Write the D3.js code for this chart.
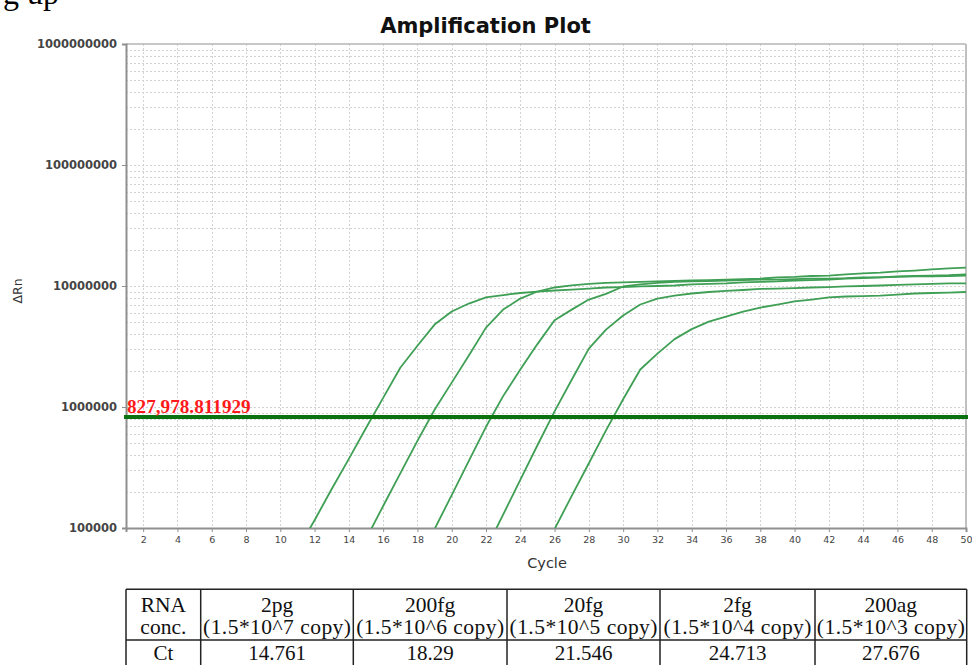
<!DOCTYPE html>
<html><head><meta charset="utf-8">
<script src="https://cdn.jsdelivr.net/npm/d3@7"></script>
<style>
html,body{margin:0;padding:0;background:#fff;}
svg{display:block;}
</style></head>
<body>
<svg id="chart" width="972" height="665"></svg>
<script>
// ---------- data ----------
const cycles = [11,12,13,14,15,16,17,18,19,20,21,22,23,24,25,26,27,28,29,30,
                31,32,33,34,35,36,37,38,39,40,41,42,43,44,45,46,47,48,49,50];
const N = null;
const s2pg = [6.6e4,1.16e5,2.1e5,3.73e5,6.7e5, 1.19e6,2.11e6,3.21e6,4.8e6,6.15e6,
              7.16e6,8.04e6,8.42e6,8.75e6,9.0e6, 9.18e6,9.35e6,9.53e6,9.72e6,9.8e6,
              9.91e6,1.0e7,1.01e7,1.03e7,1.04e7, 1.05e7,1.07e7,1.08e7,1.09e7,1.11e7,
              1.12e7,1.13e7,1.15e7,1.16e7,1.18e7, 1.2e7,1.21e7,1.22e7,1.23e7,1.25e7];
const s200fg = [N,N,N,N,8.1e4, 1.52e5,2.83e5,5.25e5,9.5e5,1.59e6,
              2.66e6,4.53e6,6.38e6,7.87e6,9.0e6, 9.72e6,1.01e7,1.04e7,1.06e7,1.07e7,
              1.08e7,1.09e7,1.1e7,1.11e7,1.12e7, 1.13e7,1.14e7,1.15e7,1.18e7,1.19e7,
              1.21e7,1.22e7,1.25e7,1.27e7,1.29e7, 1.32e7,1.34e7,1.37e7,1.40e7,1.42e7];
const s20fg = [N,N,N,N,N, N,N,5.2e4,9.8e4,1.87e5,
              3.59e5,6.86e5,1.23e6,2.04e6,3.31e6, 5.22e6,6.38e6,7.73e6,8.6e6,9.91e6,
              1.03e7,1.06e7,1.08e7,1.09e7,1.1e7, 1.11e7,1.12e7,1.13e7,1.13e7,1.14e7,
              1.15e7,1.15e7,1.16e7,1.18e7,1.18e7, 1.19e7,1.2e7,1.2e7,1.21e7,1.22e7];
const s2fg = [N,N,N,N,N, N,N,N,N,N,
              3.4e4,6.7e4,1.29e5,2.5e5,4.83e5, 9.2e5,1.68e6,3.04e6,4.36e6,5.7e6,
              7.03e6,7.87e6,8.34e6,8.67e6,8.92e6, 9.1e6,9.27e6,9.45e6,9.53e6,9.62e6,
              9.72e6,9.8e6,9.91e6,1.0e7,1.01e7, 1.02e7,1.03e7,1.04e7,1.05e7,1.05e7];
const s200ag = [N,N,N,N,N, N,N,N,N,N,
              N,N,N,N,5.3e4, 9.8e4,1.84e5,3.43e5,6.41e5,1.16e6,
              2.04e6,2.76e6,3.64e6,4.4e6,5.08e6, 5.58e6,6.15e6,6.64e6,7.03e6,7.45e6,
              7.73e6,8.04e6,8.19e6,8.26e6,8.34e6, 8.5e6,8.67e6,8.75e6,8.83e6,8.92e6];
const seriesList = [s2pg, s200fg, s20fg, s2fg, s200ag];

const threshold = 827978.811929;
const thresholdLabel = "827,978.811929";
const xTicks = [2,4,6,8,10,12,14,16,18,20,22,24,26,28,30,32,34,36,38,40,42,44,46,48,50];
const yTicks = [1e5,1e6,1e7,1e8,1e9];
const yTickLabels = ["100000","1000000","10000000","100000000","1000000000"];
const yMinor = [2e5,3e5,4e5,5e5,6e5,7e5,8e5,9e5, 2e6,3e6,4e6,5e6,6e6,7e6,8e6,9e6,
                2e7,3e7,4e7,5e7,6e7,7e7,8e7,9e7, 2e8,3e8,4e8,5e8,6e8,7e8,8e8,9e8];

const tableHeadConc = ["RNA","2pg","200fg","20fg","2fg","200ag"];
const tableHeadCopy = ["conc.","(1.5*10^7 copy)","(1.5*10^6 copy)","(1.5*10^5 copy)","(1.5*10^4 copy)","(1.5*10^3 copy)"];
const tableCt = ["Ct","14.761","18.29","21.546","24.713","27.676"];

// ---------- layout ----------
const svg = d3.select("#chart");
const L = 126, R = 966, T = 44, B = 528;
const x = d3.scaleLinear().domain([1,50]).range([L,R]);
const y = d3.scaleLog().domain([1e5,1e9]).range([B,T]);

// cropped text from the page above
svg.append("text").attr("x",3).attr("y",4)
  .attr("font-family","Liberation Serif").attr("font-size",32).attr("fill","#000").text("g up");

// title
svg.append("text").attr("x",485.5).attr("y",33).attr("text-anchor","middle")
  .attr("font-family","DejaVu Sans").attr("font-weight","bold").attr("font-size",21)
  .attr("fill","#111").text("Amplification Plot");

// grid
const grid = svg.append("g").attr("stroke","#d2d2d2").attr("stroke-width",1).attr("stroke-dasharray","2,2");
grid.selectAll("line.h").data(yMinor.concat([1e6,1e7,1e8])).join("line")
  .attr("x1",L).attr("x2",R).attr("y1",d=>Math.round(y(d))+0.5).attr("y2",d=>Math.round(y(d))+0.5);
grid.selectAll("line.v").data(xTicks.filter(d=>d<50)).join("line")
  .attr("y1",T).attr("y2",B).attr("x1",d=>Math.round(x(d))+0.5).attr("x2",d=>Math.round(x(d))+0.5);

// frame
svg.append("line").attr("x1",L).attr("x2",R).attr("y1",T).attr("y2",T).attr("stroke","#b5b5b5").attr("stroke-width",1.5);
svg.append("line").attr("x1",R).attr("x2",R).attr("y1",T).attr("y2",B).attr("stroke","#c0c0c0").attr("stroke-width",2);

// axes
const yAxis = d3.axisLeft(y).tickValues(yTicks).tickFormat((d,i)=>yTickLabels[i]).tickSize(4).tickPadding(5);
const gy = svg.append("g").attr("transform",`translate(${L},0)`).call(yAxis);
gy.select(".domain").attr("stroke","#8f8f8f").attr("stroke-width",2);
gy.selectAll(".tick line").attr("stroke","#8f8f8f");
gy.selectAll(".tick text").attr("font-family","DejaVu Sans").attr("font-weight","bold")
  .attr("font-size",11.5).attr("fill","#444");

const xAxis = d3.axisBottom(x).tickValues(xTicks).tickSize(4).tickPadding(4);
const gx = svg.append("g").attr("transform",`translate(0,${B})`).call(xAxis);
gx.select(".domain").attr("stroke","#8f8f8f").attr("stroke-width",2);
gx.selectAll(".tick line").attr("stroke","#8f8f8f");
gx.selectAll(".tick text").attr("font-family","DejaVu Sans").attr("font-size",9.5)
  .attr("fill","#444");

// axis titles
svg.append("text").attr("x",547).attr("y",568).attr("text-anchor","middle")
  .attr("font-family","DejaVu Sans").attr("font-size",14.5).attr("fill","#333").text("Cycle");
svg.append("text").attr("transform","translate(22,291) rotate(-90)").attr("text-anchor","middle")
  .attr("font-family","DejaVu Sans").attr("font-size",12.5).attr("fill","#333").text("ΔRn");

// curves
svg.append("clipPath").attr("id","clip").append("rect")
  .attr("x",L).attr("y",T).attr("width",R-L).attr("height",B-T);
const line = d3.line().defined(d=>d[1]!==null).x(d=>x(d[0])).y(d=>y(d[1]));
svg.append("g").attr("clip-path","url(#clip)")
  .selectAll("path").data(seriesList).join("path")
  .attr("d",s=>line(cycles.map((c,i)=>[c,s[i]])))
  .attr("fill","none").attr("stroke","#3f9f55").attr("stroke-width",1.8).attr("stroke-linejoin","round");

// threshold
svg.append("line").attr("x1",L-2).attr("x2",R+2).attr("y1",y(threshold)).attr("y2",y(threshold))
  .attr("stroke","#0a720f").attr("stroke-width",4);
svg.append("text").attr("x",L+1).attr("y",y(threshold)-4)
  .attr("font-family","Liberation Serif").attr("font-weight","bold").attr("font-size",19.2)
  .attr("fill","#ff1a1a").text(thresholdLabel);

// table
const colEdges = [126,200.7,353.3,507,660,815,966.7];
const tTop = 589.3, tMid = 640, tBot = 672;
const tg = svg.append("g");
tg.append("line").attr("x1",colEdges[0]).attr("x2",colEdges[6]).attr("y1",tTop).attr("y2",tTop).attr("stroke","#222").attr("stroke-width",1.5);
tg.append("line").attr("x1",colEdges[0]).attr("x2",colEdges[6]).attr("y1",tMid).attr("y2",tMid).attr("stroke","#222").attr("stroke-width",1.5);
tg.selectAll("line.c").data(colEdges).join("line").attr("class","c")
  .attr("x1",d=>d).attr("x2",d=>d).attr("y1",tTop).attr("y2",tBot).attr("stroke","#222").attr("stroke-width",1.5);
const centers = colEdges.slice(0,6).map((e,i)=>(e+colEdges[i+1])/2);
const tf = sel => sel.attr("font-family","Liberation Serif").attr("font-size",21.5).attr("fill","#111").attr("text-anchor","middle");
tg.selectAll("text.a").data(tableHeadConc).join("text").attr("class","a").call(tf)
  .attr("x",(d,i)=>centers[i]).attr("y",611.5).text(d=>d);
tg.selectAll("text.b").data(tableHeadCopy).join("text").attr("class","b").call(tf)
  .attr("x",(d,i)=>centers[i]).attr("y",633.5).text(d=>d)
  .each(function(d,i){ if(i>0){ d3.select(this).attr("textLength",148).attr("lengthAdjust","spacing"); } });
tg.selectAll("text.c").data(tableCt).join("text").attr("class","c").call(tf)
  .attr("font-size",21).attr("x",(d,i)=>centers[i]).attr("y",660).text(d=>d);
</script>
</body></html>
